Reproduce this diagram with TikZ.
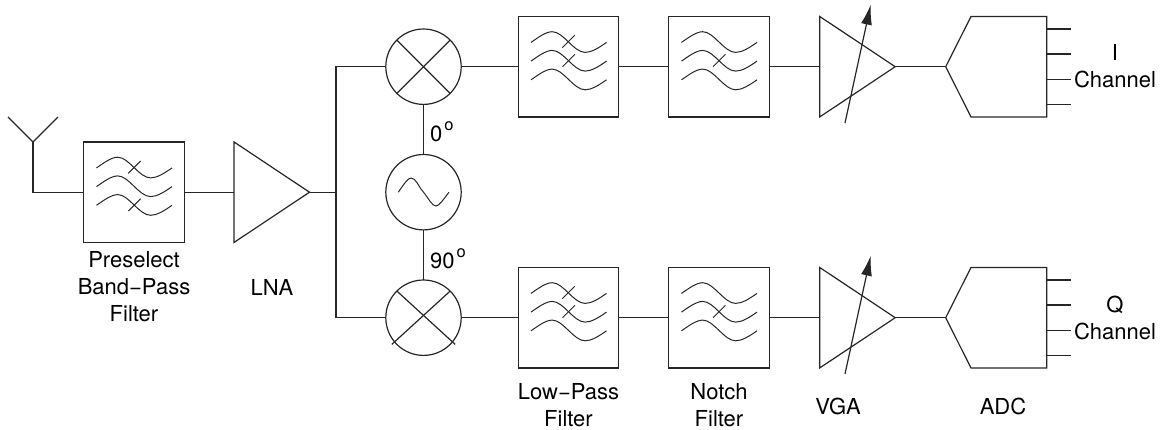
\documentclass[tikz,border=0pt]{standalone}
\usepackage{fontspec}
\setmainfont{TeX Gyre Heros}
\usetikzlibrary{arrows.meta,shapes.geometric}
\tikzset{
  wire/.style={line width=1.2pt,black!85},
  filterbox/.style={draw,wire,rectangle,minimum size=100.5pt,inner sep=0pt,outer sep=0pt},
  ringbox/.style={draw,wire,circle,minimum size=75.4pt,inner sep=0pt,outer sep=0pt},
  ampbox/.style={draw,wire,isosceles triangle,isosceles triangle stretches,
    minimum width=100.5pt,minimum height=75.5pt,inner sep=0pt,outer sep=0pt,anchor=lower side},
  lbl/.style={font=\fontsize{22}{27}\selectfont,align=center,inner sep=0pt},
  wave/.pic={
    \foreach \dy in {0,18.7,37.4} {
      \draw[wire,line width=1pt,shift={(0,\dy)}] (-37.5,-24.3)
        .. controls (-30,-29.5) and (-22.5,-35) .. (-16.3,-35)
        .. controls (-5,-35) and (5,-14.3) .. (16.7,-14.3)
        .. controls (23,-14.3) and (30.5,-19) .. (38,-24.3);
    }
  },
  notchmark/.pic={\draw[wire,line width=1pt] (-6,0) -- (6.4,-12.4);}
}
\newcommand{\dego}{\kern2pt\raisebox{11pt}{\fontsize{16.5}{16.5}\selectfont o}}
\begin{document}
\begin{tikzpicture}[x=1pt,y=-1pt]
  \useasboundingbox (0,0) rectangle (1167,429);
  % front end
  \coordinate (ant) at (33,142);
  \coordinate (antl) at (8,117);
  \coordinate (antr) at (58,117);
  \node[filterbox] (fpre) at (134,192.2) {};
  \node[ampbox] (lna) at (234,192.2) {};
  \coordinate (split) at (336,192.2);
  \draw[wire] (antl) -- (ant) -- (antr);
  \draw[wire] (ant) |- (fpre.west);
  \draw[wire] (fpre.east) -- (lna.lower side);
  \draw[wire] (lna.apex) -- (split);
  \path (fpre) pic {wave};
  \draw[wire,line width=1pt] (128.3,173.3) -- (140.7,161);
  \draw[wire,line width=1pt] (128.3,211) -- (140.7,198.7);
  % mixers and oscillator
  \node[ringbox] (mixi) at (423.5,66.7) {};
  \node[ringbox] (osc) at (423.5,192.2) {};
  \node[ringbox] (mixq) at (423.5,317.7) {};
  \draw[wire] (mixi.135) -- (mixi.-45);
  \draw[wire] (mixi.45) -- (mixi.-135);
  \draw[wire] (mixq.135) -- ([xshift=5pt]mixq.-45);
  \draw[wire] (mixq.45) -- ([xshift=-5pt]mixq.-135);
  \draw[wire] (mixi.west) -| (split) |- (mixq.west);
  \draw[wire] (mixi.south) -- (osc.north);
  \draw[wire] (osc.south) -- (mixq.north);
  \draw[wire,line width=1pt] (398.3,192.2)
    .. controls (404,184) and (408,178) .. (411,178)
    .. controls (416,178) and (418,186) .. (423.5,192.2)
    .. controls (429,199) and (432,206) .. (436,206)
    .. controls (439,206) and (443,200) .. (449,192.2);
  % I channel
  \node[filterbox] (lpfi) at (568.5,66.7) {};
  \node[filterbox] (nfi) at (719,66.7) {};
  \node[ampbox] (vgai) at (819.7,66.7) {};
  \coordinate (adci) at (945.7,66.7);
  \draw[wire] (mixi.east) -- (lpfi.west);
  \draw[wire] (lpfi.east) -- (nfi.west);
  \draw[wire] (nfi.east) -- (vgai.lower side);
  \draw[wire] (vgai.apex) -- (adci);
  \path (lpfi) pic {wave};
  \path (nfi) pic {wave};
  \draw[wire,line width=1pt] (562.3,47.7) -- (574.7,35.3);
  \path (568.5,66.7) pic {notchmark};
  \path (719,66.7) pic {notchmark};
  \draw[wire,-{Latex[length=20pt,width=11pt]}] (845,123) -- (870.7,4.7);
  \draw[wire] (adci) -- (971,16.5) -- (1046.7,16.5) -- (1046.7,117) -- (971,117) -- cycle;
  \foreach \y in {29,54,79.3,104.7} \draw[wire] (1046.7,\y) -- (1071,\y);
  % Q channel
  \node[filterbox] (lpfq) at (568.5,317.7) {};
  \node[filterbox] (nfq) at (719,317.7) {};
  \node[ampbox] (vgaq) at (819.7,317.7) {};
  \coordinate (adcq) at (945.7,317.7);
  \draw[wire] (mixq.east) -- (lpfq.west);
  \draw[wire] (lpfq.east) -- (nfq.west);
  \draw[wire] (nfq.east) -- (vgaq.lower side);
  \draw[wire] (vgaq.apex) -- (adcq);
  \path (lpfq) pic {wave};
  \path (nfq) pic {wave};
  \draw[wire,line width=1pt] (562.3,298.7) -- (574.7,286.3);
  \path (568.5,317.7) pic {notchmark};
  \path (719,317.7) pic {notchmark};
  \draw[wire,-{Latex[length=20pt,width=11pt]}] (845,374) -- (870.7,255.7);
  \draw[wire] (adcq) -- (971,267.5) -- (1046.7,267.5) -- (1046.7,368) -- (971,368) -- cycle;
  \foreach \y in {280,305,330.3,355.7} \draw[wire] (1046.7,\y) -- (1071,\y);
  % labels
  \node[lbl] (tpre) at (134,287) {Preselect\\Band−Pass\\Filter};
  \node[lbl] (tlna) at (272,287) {LNA};
  \node[lbl] (tlp) at (568.5,405) {Low−Pass\\Filter};
  \node[lbl] (tnf) at (719,405) {Notch\\Filter};
  \node[lbl] (tvga) at (838,406) {VGA};
  \node[lbl] (tadc) at (1003,406) {ADC};
  \node[lbl] (ti) at (1115,66) {I\\Channel};
  \node[lbl] (tq) at (1115,318) {Q\\Channel};
  \node[lbl,anchor=base west] (tzero) at (430,141.7) {0\dego};
  \node[lbl,anchor=base west] (tninety) at (430,268.3) {90\dego};
\end{tikzpicture}
\end{document}
